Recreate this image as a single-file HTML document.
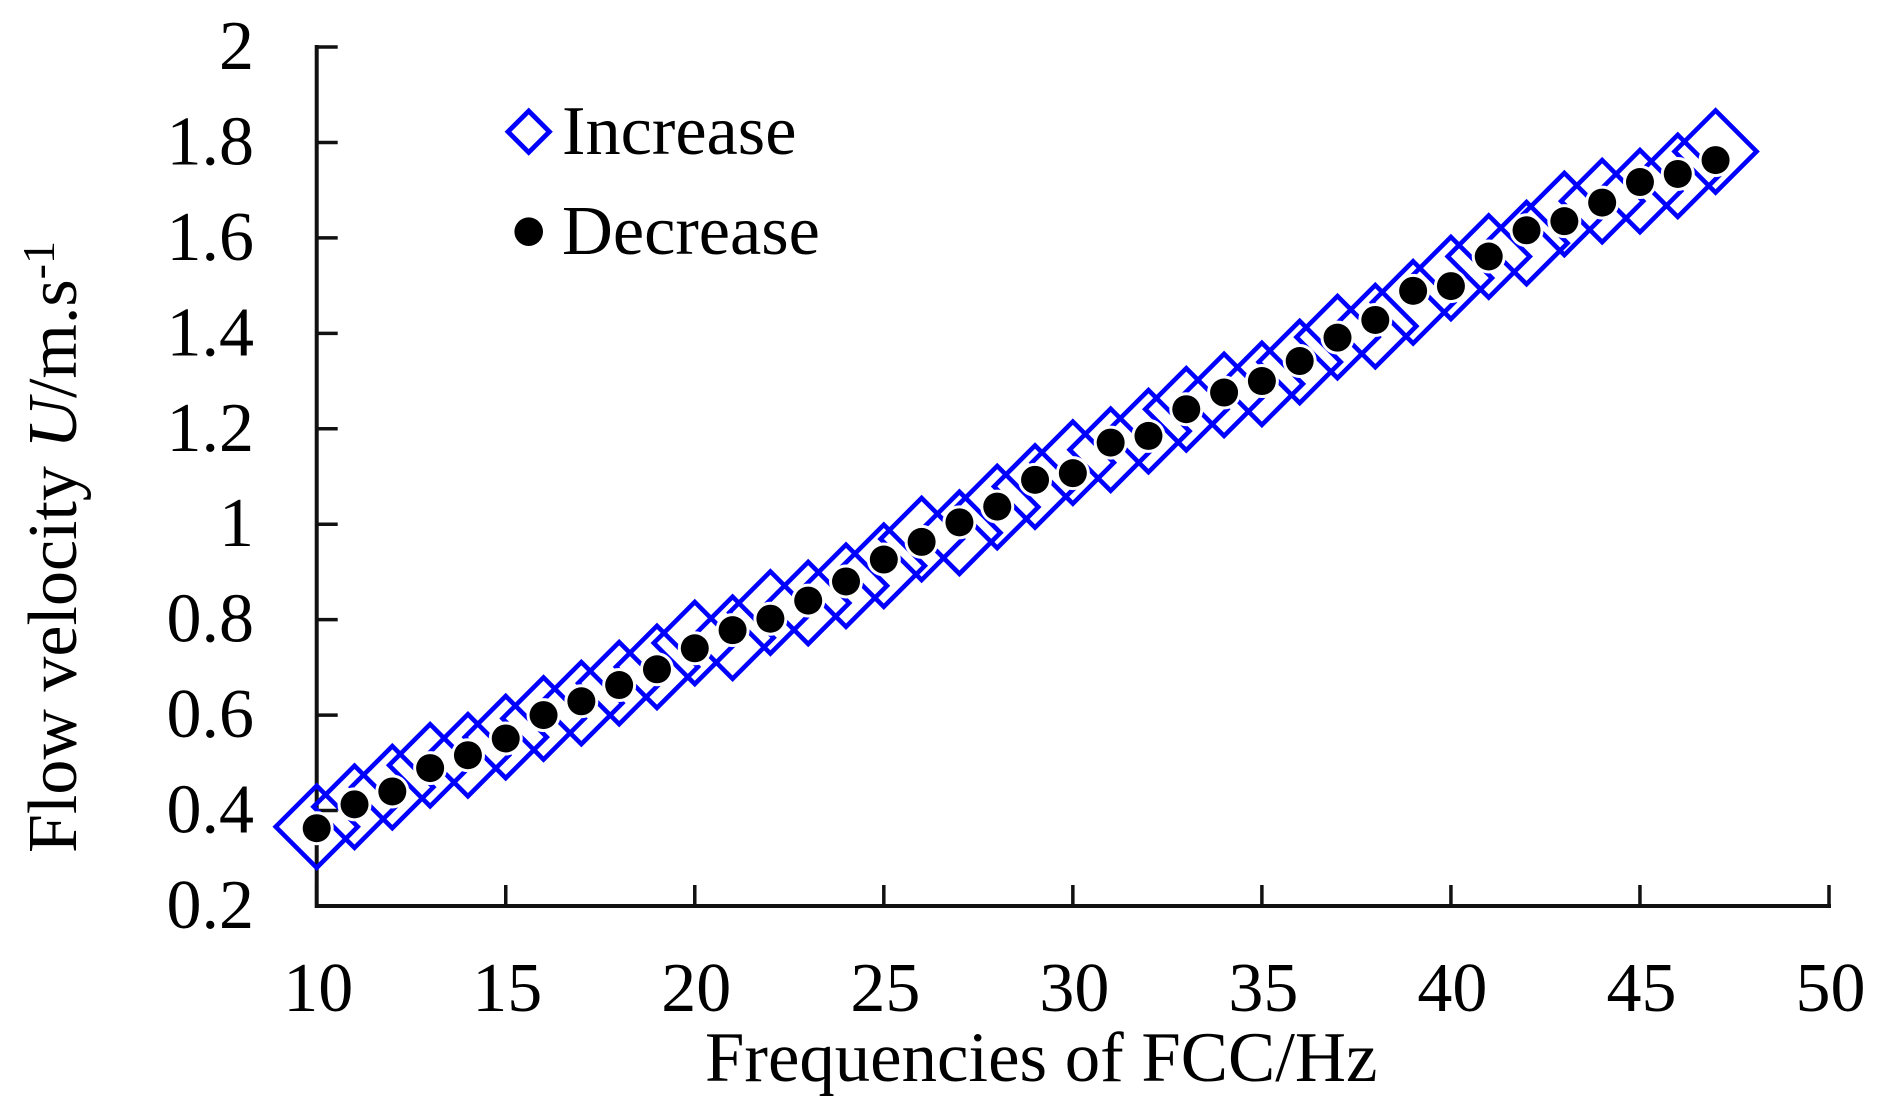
<!DOCTYPE html>
<html lang="en">
<head>
<meta charset="utf-8">
<title>Flow velocity vs. FCC frequency</title>
<style>
  html, body { margin: 0; padding: 0; background: #fff; }
  svg { display: block; }
  text { font-family: "Liberation Serif", "Times New Roman", serif; fill: #000; font-size: 70px; }
</style>
</head>
<body>
<svg id="chart" xmlns="http://www.w3.org/2000/svg" width="1886" height="1113" viewBox="0 0 1886 1113">
  <rect x="0" y="0" width="1886" height="1113" fill="#fff"/>
  <g id="x-ticks"></g>
  <g id="y-ticks"></g>
  <g id="axes"></g>
  <g id="increase-series"></g>
  <g id="decrease-series"></g>
  <text x="705" y="1081" style="font-size:70.8px">Frequencies of FCC/Hz</text>
  <text transform="translate(76 853) rotate(-90)">Flow velocity <tspan font-style="italic">U</tspan>/m.s<tspan dy="-22" style="font-size:46px">-1</tspan></text>
  <g>
    <polygon points="528.7,111 549.4,131.7 528.7,152.4 508,131.7" fill="none" stroke="#0000ff" stroke-width="4.8"/>
    <text x="562" y="154" style="font-size:70.4px">Increase</text>
    <circle cx="528.7" cy="231.7" r="14.3" fill="#000"/>
    <text x="562" y="254" style="font-size:70.4px">Decrease</text>
  </g>
</svg>
<script>
const frequencies = [10,11,12,13,14,15,16,17,18,19,20,21,22,23,24,25,26,27,28,29,30,31,32,33,34,35,36,37,38,39,40,41,42,43,44,45,46,47];
const increaseValues = [0.366,0.408,0.449,0.495,0.516,0.554,0.593,0.625,0.667,0.701,0.751,0.762,0.815,0.835,0.871,0.913,0.969,0.982,1.036,1.079,1.129,1.156,1.195,1.241,1.271,1.294,1.340,1.392,1.415,1.465,1.516,1.561,1.589,1.650,1.677,1.698,1.730,1.781];
const decreaseValues = [0.363,0.413,0.440,0.489,0.516,0.551,0.600,0.629,0.663,0.696,0.740,0.778,0.802,0.840,0.880,0.926,0.963,1.004,1.037,1.093,1.107,1.171,1.185,1.241,1.276,1.300,1.342,1.391,1.428,1.489,1.499,1.561,1.616,1.635,1.674,1.717,1.734,1.763];
const xTickValues = [10,15,20,25,30,35,40,45,50];
const yTickValues = [0.2,0.4,0.6,0.8,1,1.2,1.4,1.6,1.8,2];

const NS = 'http://www.w3.org/2000/svg';
const xMin = 10, xMax = 50, yMin = 0.2, yMax = 2;
const plotLeft = 316.7, plotRight = 1829, plotTop = 47, plotBottom = 906;
const tickLen = 21;
const diamondHalf = 41;
const dotRadius = 14;

function xScale(v) { return plotLeft + (v - xMin) / (xMax - xMin) * (plotRight - plotLeft); }
function yScale(v) { return plotBottom - (v - yMin) / (yMax - yMin) * (plotBottom - plotTop); }
function make(tag, attrs) {
  const el = document.createElementNS(NS, tag);
  Object.keys(attrs).forEach(function (k) { el.setAttribute(k, attrs[k]); });
  return el;
}

const axesGroup = document.getElementById('axes');
const xTickGroup = document.getElementById('x-ticks');
const yTickGroup = document.getElementById('y-ticks');
const incGroup = document.getElementById('increase-series');
const decGroup = document.getElementById('decrease-series');

const yAxisLine = make('line', {x1: plotLeft, x2: plotLeft, y1: plotTop - 2, y2: plotBottom + 2, stroke: '#111', 'stroke-width': 4});


axesGroup.appendChild(yAxisLine);

const xAxisLine = make('line', {x1: plotLeft, x2: plotRight + 2, y1: plotBottom, y2: plotBottom, stroke: '#111', 'stroke-width': 4});


axesGroup.appendChild(xAxisLine);

xTickValues.forEach(function (v) {
  const x = xScale(v);
  const tick = make('line', {x1: x, x2: x, y1: plotBottom, y2: plotBottom - tickLen, stroke: '#111', 'stroke-width': 3.5});
  
  
  xTickGroup.appendChild(tick);
  const label = make('text', {x: x + 1.5, y: 1011, 'text-anchor': 'middle'});
  
  
  label.textContent = String(v);
  xTickGroup.appendChild(label);
});

yTickValues.forEach(function (v) {
  const y = yScale(v);
  const tick = make('line', {x1: plotLeft, x2: plotLeft + tickLen, y1: y, y2: y, stroke: '#111', 'stroke-width': 3.5});
  
  
  yTickGroup.appendChild(tick);
  const label = make('text', {x: 254, y: y + 22, 'text-anchor': 'end'});
  
  
  label.textContent = String(v);
  yTickGroup.appendChild(label);
});

frequencies.forEach(function (f, i) {
  const cx = xScale(f), cy = yScale(increaseValues[i]);
  const pts = [[cx, cy - diamondHalf], [cx + diamondHalf, cy], [cx, cy + diamondHalf], [cx - diamondHalf, cy]]
    .map(function (p) { return p[0] + ',' + p[1]; }).join(' ');
  const d = make('polygon', {points: pts, fill: 'none', stroke: '#0000ff', 'stroke-width': 4.6});
  
  
  incGroup.appendChild(d);
});

frequencies.forEach(function (f, i) {
  const c = make('circle', {cx: xScale(f), cy: yScale(decreaseValues[i]), r: dotRadius, fill: '#000', stroke: '#fff', 'stroke-width': 6, 'paint-order': 'stroke'});
  
  
  decGroup.appendChild(c);
});
</script>
</body>
</html>
